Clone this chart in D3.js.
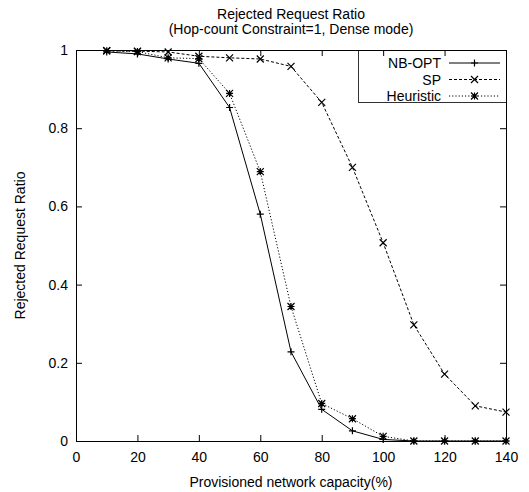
<!DOCTYPE html>
<html>
<head>
<meta charset="utf-8">
<script src="https://cdn.jsdelivr.net/npm/d3@7"></script>
<style>
  body { margin: 0; background: #fff; }
  svg { display: block; font-family: "Liberation Sans", Arial, Helvetica, sans-serif; }
  .axis path, .axis line { stroke: #000; }
  .axis text { font-size: 14px; fill: #000; }
</style>
</head>
<body>
<script>
'use strict';
// 데이터
const capacity = [10, 20, 30, 40, 50, 60, 70, 80, 90, 100, 110, 120, 130, 140];
const nbOpt     = [0.995, 0.99, 0.977, 0.966, 0.853, 0.58, 0.228, 0.081, 0.026, 0.004, 0, 0, 0, 0];
const sp        = [0.998, 0.997, 0.995, 0.984, 0.98, 0.977, 0.958, 0.866, 0.70, 0.507, 0.297, 0.171, 0.09, 0.074];
const heuristic = [0.998, 0.996, 0.98, 0.978, 0.889, 0.689, 0.344, 0.096, 0.057, 0.012, 0, 0, 0, 0];
const xTicks = [0, 20, 40, 60, 80, 100, 120, 140];
const yTicks = [0, 0.2, 0.4, 0.6, 0.8, 1];
const seriesNames = ['NB-OPT', 'SP', 'Heuristic'];

const W = 529, H = 492;
const plot = {left: 76, right: 506, top: 50, bottom: 441};

const svg = d3.select(document.body).append('svg')
  .attr('width', W).attr('height', H);

const x = d3.scaleLinear().domain([0, 140]).range([plot.left, plot.right]);
const y = d3.scaleLinear().domain([0, 1]).range([plot.bottom, plot.top]);

// 축 (눈금은 안쪽으로)
svg.append('g').attr('class', 'axis')
  .attr('transform', `translate(0,${plot.bottom})`)
  .call(d3.axisBottom(x).tickValues(xTicks).tickSizeInner(-6).tickSizeOuter(0).tickPadding(11))
  .call(g => g.select('.domain').remove());
svg.append('g').attr('class', 'axis')
  .attr('transform', `translate(0,${plot.top})`)
  .call(d3.axisTop(x).tickValues(xTicks).tickSizeInner(-6).tickSizeOuter(0).tickFormat(''))
  .call(g => g.select('.domain').remove());
svg.append('g').attr('class', 'axis')
  .attr('transform', `translate(${plot.left},0)`)
  .call(d3.axisLeft(y).tickValues(yTicks).tickSizeInner(-6).tickSizeOuter(0).tickPadding(8)
    .tickFormat(d => d === 0 || d === 1 ? d3.format('d')(d) : d3.format('.1f')(d)))
  .call(g => g.select('.domain').remove());
svg.append('g').attr('class', 'axis')
  .attr('transform', `translate(${plot.right},0)`)
  .call(d3.axisRight(y).tickValues(yTicks).tickSizeInner(-6).tickSizeOuter(0).tickFormat(''))
  .call(g => g.select('.domain').remove());

// 테두리
svg.append('rect')
  .attr('x', plot.left + 0.5).attr('y', plot.top + 0.5)
  .attr('width', plot.right - plot.left).attr('height', plot.bottom - plot.top)
  .attr('fill', 'none').attr('stroke', '#000');

// 제목
svg.append('text').attr('x', (plot.left + plot.right) / 2).attr('y', 19)
  .attr('text-anchor', 'middle').attr('font-size', 14).text('Rejected Request Ratio');
svg.append('text').attr('x', (plot.left + plot.right) / 2).attr('y', 34)
  .attr('text-anchor', 'middle').attr('font-size', 14).text('(Hop-count Constraint=1, Dense mode)');
svg.append('text').attr('x', (plot.left + plot.right) / 2).attr('y', 487)
  .attr('text-anchor', 'middle').attr('font-size', 14).text('Provisioned network capacity(%)');
svg.append('text').attr('transform', `translate(25,${(plot.top + plot.bottom) / 2}) rotate(-90)`)
  .attr('text-anchor', 'middle').attr('font-size', 14).text('Rejected Request Ratio');

// 마커 모양
const s = 3.5;
const markers = {
  plus: `M${-s},0H${s}M0,${-s}V${s}`,
  cross: `M${-s},${-s}L${s},${s}M${-s},${s}L${s},${-s}`,
  star: `M${-s},0H${s}M0,${-s}V${s}M${-s},${-s}L${s},${s}M${-s},${s}L${s},${-s}`
};
const series = [
  {name: seriesNames[0], values: nbOpt, dash: null, marker: markers.plus},
  {name: seriesNames[1], values: sp, dash: '3,2', marker: markers.cross},
  {name: seriesNames[2], values: heuristic, dash: '1.2,2', marker: markers.star}
];

const line = d3.line().x((d, i) => x(capacity[i])).y(d => y(d));

series.forEach(function(sr){
  svg.append('path')
    .attr('d', line(sr.values))
    .attr('fill', 'none').attr('stroke', '#000').attr('stroke-width', 1)
    .attr('stroke-dasharray', sr.dash);
  svg.append('g').selectAll('path')
    .data(sr.values).enter()
    .append('path')
    .attr('transform', (d, i) => `translate(${x(capacity[i])},${y(d)})`)
    .attr('d', sr.marker)
    .attr('fill', 'none').attr('stroke', '#000').attr('stroke-width', 1.2);
});

// 범례
const legend = svg.append('g');
legend.append('rect')
  .attr('x', 358.5).attr('y', plot.top + 0.5)
  .attr('width', plot.right - 358).attr('height', 52)
  .attr('fill', 'none').attr('stroke', '#000').attr('stroke-width', 0.8);
series.forEach(function(sr, i){
  const ly = plot.top + 13 + i * 16.5;
  legend.append('text').attr('x', 441).attr('y', ly + 5)
    .attr('text-anchor', 'end').attr('font-size', 14).text(sr.name);
  legend.append('line').attr('x1', 449).attr('x2', 500).attr('y1', ly).attr('y2', ly)
    .attr('stroke', '#000').attr('stroke-dasharray', sr.dash);
  legend.append('path').attr('transform', `translate(474.5,${ly})`)
    .attr('d', sr.marker).attr('fill', 'none').attr('stroke', '#000').attr('stroke-width', 1.2);
});
</script>
</body>
</html>
